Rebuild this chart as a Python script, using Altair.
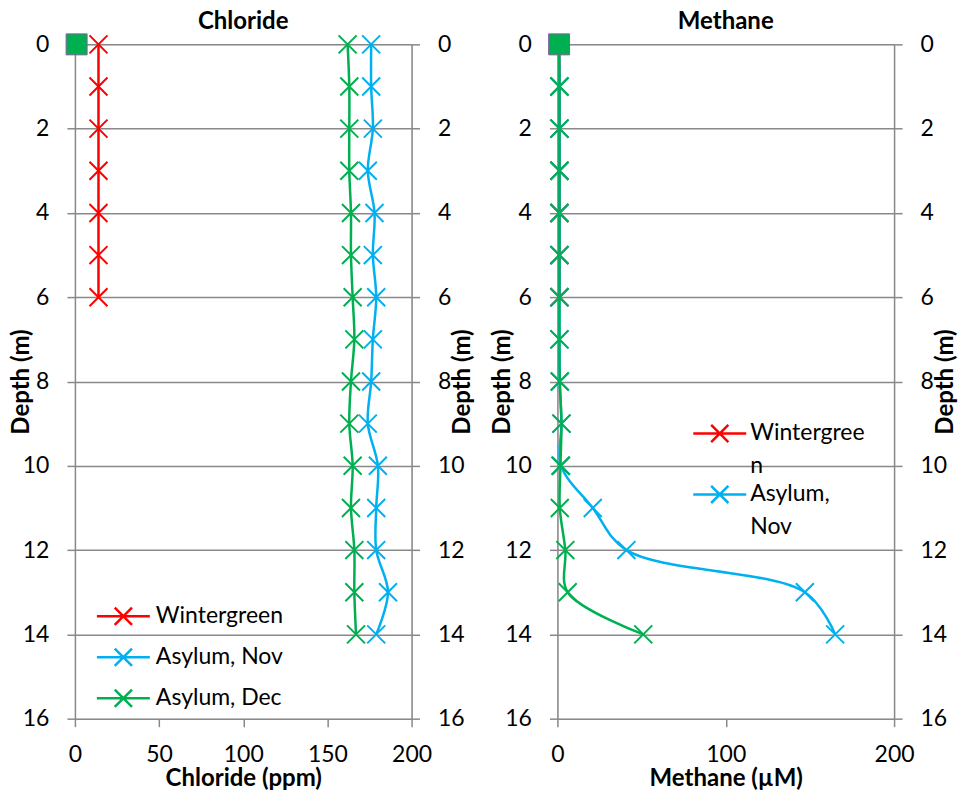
import altair as alt
import pandas as pd

# ---------------- data ----------------
series_names = ["Wintergreen", "Asylum, Nov", "Asylum, Dec"]
series_colors = ["#FF0000", "#00B0F0", "#00B050"]

wg_depth = [0, 1, 2, 3, 4, 5, 6]
asy_depth = [0, 1, 2, 3, 4, 5, 6, 7, 8, 9, 10, 11, 12, 13, 14]

# Chloride (ppm)
wg_cl = [14, 14, 14, 14, 14, 14, 14]
nov_cl = [176, 176, 177, 174, 178, 177, 179, 177, 176, 174, 180, 179, 179, 186, 179]
dec_cl = [162, 163, 163, 163, 164, 164, 165, 166, 164, 163, 165, 164, 166, 166, 167]

# Methane (uM)
wg_ch4 = [1, 1.2, 1.2, 1.2, 1.2, 1.2, 1.2]
nov_ch4 = [1, 1.2, 1.2, 1.2, 1.2, 1.2, 1.2, 1.2, 1.4, 2.4, 2.2, 21, 41, 147, 165]
dec_ch4 = [1, 1.2, 1.2, 1.2, 1.2, 1.2, 1.2, 1.2, 1.4, 2.4, 1.8, 1.4, 4.7, 6.1, 51]

# surface sample (green square)
surface_depth = [0]
surface_cl = [1]
surface_ch4 = [1]

x_ticks_cl = [0, 50, 100, 150, 200]
x_ticks_ch4 = [0, 100, 200]
depth_ticks = [0, 2, 4, 6, 8, 10, 12, 14, 16]


def long_df(wg, nov, dec):
    rows = []
    for name, dep, vals in [("Wintergreen", wg_depth, wg),
                            ("Asylum, Nov", asy_depth, nov),
                            ("Asylum, Dec", asy_depth, dec)]:
        for d, v in zip(dep, vals):
            rows.append({"series": name, "depth": d, "value": v})
    return pd.DataFrame(rows)


df_cl = long_df(wg_cl, nov_cl, dec_cl)
df_ch4 = long_df(wg_ch4, nov_ch4, dec_ch4)
sq_cl = pd.DataFrame({"depth": surface_depth, "value": surface_cl})
sq_ch4 = pd.DataFrame({"depth": surface_depth, "value": surface_ch4})

FONT = "Lato"
GRID = "#898989"
XPATH = "M-1,-1L1,1M-1,1L1,-1"
LEGPATH = "M-2,0H2M-0.65,-0.65L0.65,0.65M-0.65,0.65L0.65,-0.65"
W, H = 337, 675


def y_axis(orient, title_x):
    return alt.Axis(
        orient=orient, values=depth_ticks, grid=(orient == "left"),
        gridColor=GRID, gridWidth=1.5, domainColor=GRID, domainWidth=1.5,
        tickColor=GRID, tickWidth=1.5, tickSize=8,
        labelFont=FONT, labelFontSize=23, labelColor="black", labelPadding=18,
        title="Depth (m)", titleFont=FONT, titleFontSize=24, titleFontWeight="bold",
        titleColor="black", titleAngle=270, titleBaseline="bottom", titleAlign="center",
        titleX=title_x, titleY=337.5,
    )


def x_axis(title, ticks):
    return alt.Axis(
        values=ticks, grid=False, domain=False, tickColor=GRID, tickWidth=1.5,
        tickSize=8, labelFont=FONT, labelFontSize=23, labelColor="black",
        labelPadding=17, labelFlush=False,
        title=title, titleFont=FONT, titleFontSize=24, titleFontWeight="bold",
        titleColor="black", titleBaseline="top", titleY=48,
    )


def panel(df, sq, title, xtitle, xticks, legend, tl, tr):
    xs = alt.Scale(domain=[0, 200], nice=False)
    ys = alt.Scale(domain=[0, 16], reverse=True, nice=False)
    color = alt.Color("series:N", sort=series_names,
                      scale=alt.Scale(domain=series_names, range=series_colors),
                      legend=legend)
    xa = x_axis(xtitle, xticks)
    base = alt.Chart(df)
    lines = base.mark_line(interpolate="catmull-rom", strokeWidth=2.5).encode(
        x=alt.X("value:Q", scale=xs, axis=xa),
        y=alt.Y("depth:Q", scale=ys, axis=y_axis("left", tl)),
        color=color,
        order=alt.Order("depth:Q"),
    )
    pts = base.mark_point(shape=XPATH, size=324, filled=False, strokeWidth=2,
                          opacity=1).encode(
        x=alt.X("value:Q", scale=xs, axis=xa),
        y=alt.Y("depth:Q", scale=ys, axis=y_axis("right", tr)),
        color=color,
    )
    square = alt.Chart(sq).mark_square(size=441, color="#00B050", stroke="#7F60A0",
                                       strokeWidth=1, opacity=1, filled=True).encode(
        x=alt.X("value:Q", scale=xs, axis=xa),
        y=alt.Y("depth:Q", scale=ys, axis=None),
    )
    return alt.layer(lines, pts, square).resolve_axis(y="independent").properties(
        width=W, height=H,
        title=alt.TitleParams(title, font=FONT, fontSize=24, fontWeight="bold",
                              color="black", anchor="middle", frame="group", offset=-3),
    )


leg_cl = alt.Legend(
    title=None, orient="none", legendX=34, legendY=558, padding=0,
    symbolType=LEGPATH, symbolSize=702, symbolStrokeWidth=2.5,
    symbolFillColor="transparent", labelFont=FONT, labelFontSize=23,
    labelColor="black", labelOffset=18, rowPadding=12,
)
leg_ch4 = alt.Legend(
    title=None, orient="none", legendX=148, legendY=375, padding=0,
    values=["Wintergreen", "Asylum, Nov"],
    symbolType=LEGPATH, symbolSize=702, symbolStrokeWidth=2.5,
    symbolFillColor="transparent", labelFont=FONT, labelFontSize=23,
    labelColor="black", labelOffset=16, rowPadding=1, labelBaseline="middle",
    labelExpr="datum.label == 'Wintergreen' ? ['Wintergree', 'n'] : ['Asylum,', 'Nov']",
)

left = panel(df_cl, sq_cl, "Chloride", "Chloride (ppm)", x_ticks_cl, leg_cl, -41, 62.6)
right = panel(df_ch4, sq_ch4, "Methane", "Methane (µM)", x_ticks_ch4, leg_ch4, -43.4, 63.6)

chart = alt.hconcat(left, right, spacing=146, bounds="flush").resolve_scale(
    color="independent").resolve_legend(color="independent").properties(
    padding={"left": 9, "top": 9, "right": 0, "bottom": 0},
).configure_view(stroke=None).configure(
    background="white", style={"guide-label": {"lineHeight": 33}})

chart.save("out.html", embed_options={"renderer": "svg", "actions": False})
